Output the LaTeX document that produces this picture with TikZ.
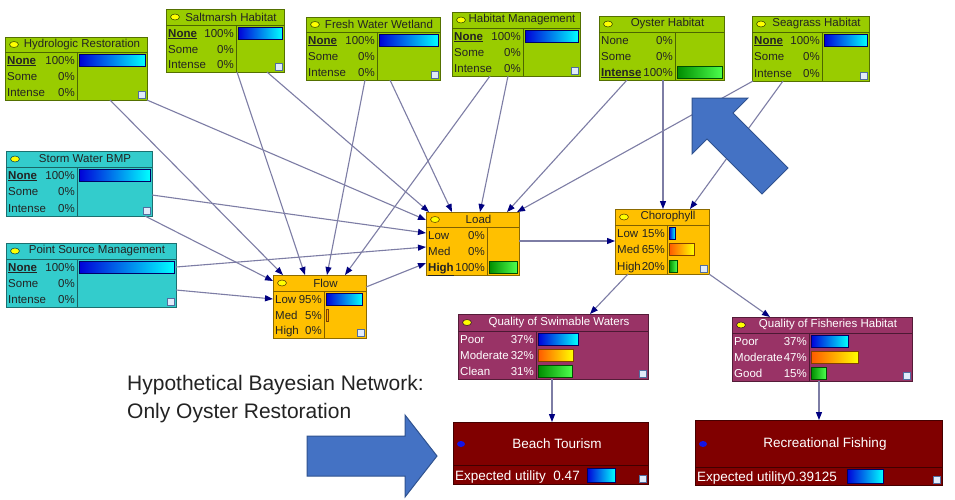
\documentclass[tikz,border=0pt]{standalone}
\usepackage{fontspec}
\setmainfont{Liberation Sans}
\usetikzlibrary{calc,arrows.meta}

\definecolor{hgreen}{RGB}{153,204,0}
\definecolor{scyan}{RGB}{51,204,204}
\definecolor{lorange}{RGB}{255,192,0}
\definecolor{qpurple}{RGB}{153,51,102}
\definecolor{udarkred}{RGB}{128,0,0}
\definecolor{ovalyellow}{RGB}{255,255,0}
\definecolor{dotblue}{RGB}{20,20,230}
\definecolor{txtdark}{RGB}{35,35,35}
\definecolor{edgegray}{RGB}{125,125,165}
\definecolor{arrownavy}{RGB}{0,0,128}
\definecolor{iconfill}{RGB}{225,235,250}
\definecolor{iconedge}{RGB}{80,110,160}
\definecolor{arrowfill}{RGB}{68,114,196}
\definecolor{arrowedge}{RGB}{47,82,143}

\newcommand{\bnfont}{\fontsize{11.5}{13}\selectfont}
\newcommand{\bnufont}{\fontsize{13.5}{15}\selectfont}
\newcommand{\sel}[1]{\underline{\textbf{#1}}}

\tikzset{
  bnbox/.style={rectangle, draw=#1!55!black, fill=#1, line width=1pt,
    inner sep=0, outer sep=0, anchor=north west},
  bnedge/.style={draw=edgegray, line width=1.1pt,
    -{Triangle[length=8pt,width=6pt,color=arrownavy]}},
  bluebar/.style={left color=blue!85!black, right color=cyan, draw=blue!40!black, line width=0.4pt},
  orangebar/.style={left color=orange!70!red, right color=yellow, draw=orange!50!black, line width=0.4pt},
  greenbar/.style={left color=green!55!black, right color=green!70!white, draw=green!30!black, line width=0.4pt},
  blockarrow/.style={fill=arrowfill, draw=arrowedge, line width=1pt},
}

% title row, divider, oval and icon of a chance node
\newcommand{\bnhead}[6]{%
  \draw[draw=#2!50!black, line width=1pt]
    ($(#1.north west)+(0,#3)$) -- ($(#1.north east)+(0,#3)$)
    ($(#1.north west)+(#4,#3)$) -- ($(#1.south west)+(#4,0)$);
  \filldraw[fill=ovalyellow, draw=#2!40!black, line width=0.6pt]
    ($(#1.north west)+(9,#3/2)$) ellipse [x radius=4.5, y radius=3];
  \node[text=#6, font=\bnfont, inner sep=0] at ($(#1.north)+(6,#3/2)$) {#5};
  \filldraw[fill=iconfill, draw=iconedge, line width=0.5pt]
    ($(#1.south east)+(-9,-2)$) rectangle ++(7,-7);
}
% one state: node, row centre, divider, label, percent, text colour
\newcommand{\bnrow}[6]{%
  \node[anchor=base west, text=#6, font=\bnfont, inner sep=0] at ($(#1.north west)+(2,#2+4)$) {#4};
  \node[anchor=base east, text=#6, font=\bnfont, inner sep=0] at ($(#1.north west)+(#3-2,#2+4)$) {#5};
}
% belief bar: node, row centre, start, length, style
\newcommand{\bnbar}[5]{%
  \shade[#5] ($(#1.north west)+(#3,#2-6)$) rectangle ++(#4,12);
}

\begin{document}
\begin{tikzpicture}[x=1pt,y=-1pt]

\fill[white] (0,0) rectangle (955,499);
\useasboundingbox (0,0) rectangle (955,499);

% management nodes
\node[bnbox=hgreen, minimum width=142, minimum height=63] (hydro) at (5,37) {};
\bnhead{hydro}{hgreen}{15}{72}{Hydrologic Restoration}{txtdark}
\bnrow{hydro}{23}{72}{\sel{None}}{100\%}{txtdark}
\bnrow{hydro}{39}{72}{Some}{0\%}{txtdark}
\bnrow{hydro}{55}{72}{Intense}{0\%}{txtdark}
\bnbar{hydro}{23}{74}{66}{bluebar}

\node[bnbox=hgreen, minimum width=118, minimum height=63] (salt) at (166,9) {};
\bnhead{salt}{hgreen}{16}{70}{Saltmarsh Habitat}{txtdark}
\bnrow{salt}{24}{70}{\sel{None}}{100\%}{txtdark}
\bnrow{salt}{40}{70}{Some}{0\%}{txtdark}
\bnrow{salt}{55}{70}{Intense}{0\%}{txtdark}
\bnbar{salt}{24}{72}{44}{bluebar}

\node[bnbox=hgreen, minimum width=134, minimum height=63] (fresh) at (306,17) {};
\bnhead{fresh}{hgreen}{15}{71}{Fresh Water Wetland}{txtdark}
\bnrow{fresh}{23}{71}{\sel{None}}{100\%}{txtdark}
\bnrow{fresh}{39}{71}{Some}{0\%}{txtdark}
\bnrow{fresh}{55}{71}{Intense}{0\%}{txtdark}
\bnbar{fresh}{23}{73}{59}{bluebar}

\node[bnbox=hgreen, minimum width=128, minimum height=64] (habmgmt) at (452,12) {};
\bnhead{habmgmt}{hgreen}{16}{71}{Habitat Management}{txtdark}
\bnrow{habmgmt}{24}{71}{\sel{None}}{100\%}{txtdark}
\bnrow{habmgmt}{40}{71}{Some}{0\%}{txtdark}
\bnrow{habmgmt}{56}{71}{Intense}{0\%}{txtdark}
\bnbar{habmgmt}{24}{73}{53}{bluebar}

\node[bnbox=hgreen, minimum width=125, minimum height=64] (oyster) at (599,16) {};
\bnhead{oyster}{hgreen}{16}{76}{Oyster Habitat}{txtdark}
\bnrow{oyster}{24}{76}{None}{0\%}{txtdark}
\bnrow{oyster}{40}{76}{Some}{0\%}{txtdark}
\bnrow{oyster}{56}{76}{\sel{Intense}}{100\%}{txtdark}
\bnbar{oyster}{56}{78}{45}{greenbar}

\node[bnbox=hgreen, minimum width=117, minimum height=65] (seagrass) at (752,16) {};
\bnhead{seagrass}{hgreen}{16}{70}{Seagrass Habitat}{txtdark}
\bnrow{seagrass}{24}{70}{\sel{None}}{100\%}{txtdark}
\bnrow{seagrass}{40}{70}{Some}{0\%}{txtdark}
\bnrow{seagrass}{57}{70}{Intense}{0\%}{txtdark}
\bnbar{seagrass}{24}{72}{43}{bluebar}

\node[bnbox=scyan, minimum width=146, minimum height=65] (storm) at (6,151) {};
\bnhead{storm}{scyan}{16}{71}{Storm Water BMP}{txtdark}
\bnrow{storm}{24}{71}{\sel{None}}{100\%}{txtdark}
\bnrow{storm}{40}{71}{Some}{0\%}{txtdark}
\bnrow{storm}{57}{71}{Intense}{0\%}{txtdark}
\bnbar{storm}{24}{73}{71}{bluebar}

\node[bnbox=scyan, minimum width=170, minimum height=64] (point) at (6,243) {};
\bnhead{point}{scyan}{16}{71}{Point Source Management}{txtdark}
\bnrow{point}{24}{71}{\sel{None}}{100\%}{txtdark}
\bnrow{point}{40}{71}{Some}{0\%}{txtdark}
\bnrow{point}{56}{71}{Intense}{0\%}{txtdark}
\bnbar{point}{24}{73}{95}{bluebar}

% intermediate nodes
\node[bnbox=lorange, minimum width=93, minimum height=63] (load) at (426,212) {};
\bnhead{load}{lorange}{15}{61}{Load}{txtdark}
\bnrow{load}{23}{61}{Low}{0\%}{txtdark}
\bnrow{load}{39}{61}{Med}{0\%}{txtdark}
\bnrow{load}{55}{61}{\sel{High}}{100\%}{txtdark}
\bnbar{load}{55}{63}{28}{greenbar}

\node[bnbox=lorange, minimum width=93, minimum height=63] (flow) at (273,275) {};
\bnhead{flow}{lorange}{16}{51}{Flow}{txtdark}
\bnrow{flow}{24}{51}{Low}{95\%}{txtdark}
\bnrow{flow}{40}{51}{Med}{5\%}{txtdark}
\bnrow{flow}{55}{51}{High}{0\%}{txtdark}
\bnbar{flow}{24}{53}{36}{bluebar}
\bnbar{flow}{40}{53}{2}{orangebar}

\node[bnbox=lorange, minimum width=94, minimum height=65] (choro) at (615,209) {};
\bnhead{choro}{lorange}{16}{52}{Chorophyll}{txtdark}
\bnrow{choro}{24}{52}{Low}{15\%}{txtdark}
\bnrow{choro}{40}{52}{Med}{65\%}{txtdark}
\bnrow{choro}{57}{52}{High}{20\%}{txtdark}
\bnbar{choro}{24}{54}{6}{bluebar}
\bnbar{choro}{40}{54}{25}{orangebar}
\bnbar{choro}{57}{54}{8}{greenbar}

\node[bnbox=qpurple, minimum width=190, minimum height=65] (swim) at (458,314) {};
\bnhead{swim}{qpurple}{17}{78}{Quality of Swimable Waters}{white}
\bnrow{swim}{25}{78}{Poor}{37\%}{white}
\bnrow{swim}{41}{78}{Moderate}{32\%}{white}
\bnrow{swim}{57}{78}{Clean}{31\%}{white}
\bnbar{swim}{25}{80}{40}{bluebar}
\bnbar{swim}{41}{80}{35}{orangebar}
\bnbar{swim}{57}{80}{34}{greenbar}

\node[bnbox=qpurple, minimum width=180, minimum height=64] (fish) at (732,317) {};
\bnhead{fish}{qpurple}{16}{77}{Quality of Fisheries Habitat}{white}
\bnrow{fish}{24}{77}{Poor}{37\%}{white}
\bnrow{fish}{40}{77}{Moderate}{47\%}{white}
\bnrow{fish}{56}{77}{Good}{15\%}{white}
\bnbar{fish}{24}{79}{37}{bluebar}
\bnbar{fish}{40}{79}{47}{orangebar}
\bnbar{fish}{56}{79}{15}{greenbar}

% utility nodes
\node[bnbox=udarkred, minimum width=195, minimum height=62] (beach) at (453,422) {};
\draw[draw=udarkred!50!black, line width=1pt] ($(beach.north west)+(0,43)$) -- ($(beach.north east)+(0,43)$);
\fill[dotblue] ($(beach.north west)+(8,22)$) ellipse [x radius=4, y radius=3];
\node[text=white, font=\bnufont, inner sep=0] at ($(beach.north west)+(104,22)$) {Beach Tourism};
\node[anchor=base west, text=white, font=\bnufont, inner sep=0] at ($(beach.north west)+(2,58)$) {Expected utility\ \ 0.47};
\shade[bluebar] ($(beach.north west)+(134,46)$) rectangle ++(28,14);
\filldraw[fill=iconfill, draw=iconedge, line width=0.5pt] ($(beach.south east)+(-9,-2)$) rectangle ++(7,-7);

\node[bnbox=udarkred, minimum width=247, minimum height=65] (recfish) at (695,420) {};
\draw[draw=udarkred!50!black, line width=1pt] ($(recfish.north west)+(0,47)$) -- ($(recfish.north east)+(0,47)$);
\fill[dotblue] ($(recfish.north west)+(8,24)$) ellipse [x radius=4, y radius=3];
\node[text=white, font=\bnufont, inner sep=0] at ($(recfish.north west)+(130,24)$) {Recreational Fishing};
\node[anchor=base west, text=white, font=\bnufont, inner sep=0] at ($(recfish.north west)+(2,61)$) {Expected utility0.39125};
\shade[bluebar] ($(recfish.north west)+(152,49)$) rectangle ++(36,14);
\filldraw[fill=iconfill, draw=iconedge, line width=0.5pt] ($(recfish.south east)+(-9,-2)$) rectangle ++(7,-7);

% links
\draw[bnedge] ($(hydro.south west)+(105,0)$) -- ($(flow.north west)+(10,0)$);
\draw[bnedge] (hydro.south east) -- ($(load.north west)+(0,8)$);
\draw[bnedge] ($(salt.south west)+(71,0)$) -- ($(flow.north west)+(32,0)$);
\draw[bnedge] ($(salt.south west)+(101,0)$) -- ($(load.north west)+(3,0)$);
\draw[bnedge] ($(fresh.south west)+(59,0)$) -- ($(flow.north west)+(54,0)$);
\draw[bnedge] ($(fresh.south west)+(84,0)$) -- ($(load.north west)+(26,0)$);
\draw[bnedge] ($(habmgmt.south west)+(38,0)$) -- ($(flow.north west)+(72,0)$);
\draw[bnedge] ($(habmgmt.south west)+(56,0)$) -- ($(load.north west)+(54,0)$);
\draw[bnedge] ($(oyster.south west)+(28,0)$) -- ($(load.north west)+(81,0)$);
\draw[bnedge] ($(oyster.south west)+(64,0)$) -- ($(choro.north west)+(48,0)$);
\draw[bnedge] ($(seagrass.south west)+(1,0)$) -- ($(load.north east)+(-2,0)$);
\draw[bnedge] ($(seagrass.south west)+(31,0)$) -- ($(choro.north west)+(75,0)$);
\draw[bnedge] ($(storm.north east)+(0,44)$) -- ($(load.north west)+(0,21)$);
\draw[bnedge] ($(storm.south east)+(-7,0)$) -- ($(flow.north west)+(0,6)$);
\draw[bnedge] ($(point.north east)+(0,24)$) -- ($(load.north west)+(0,35)$);
\draw[bnedge] ($(point.north east)+(0,47)$) -- ($(flow.north west)+(0,24)$);
\draw[bnedge] ($(flow.north east)+(0,12)$) -- ($(load.north west)+(0,51)$);
\draw[bnedge] ($(load.north east)+(0,29)$) -- ($(choro.north west)+(0,32)$);
\draw[bnedge] ($(choro.south west)+(13,0)$) -- ($(swim.north west)+(132,0)$);
\draw[bnedge] (choro.south east) -- ($(fish.north west)+(38,0)$);
\draw[bnedge] ($(swim.south west)+(94,0)$) -- ($(beach.north west)+(99,0)$);
\draw[bnedge] ($(fish.south west)+(87,0)$) -- ($(recfish.north west)+(124,0)$);

% block arrows and caption
\draw[blockarrow] (692,98) -- (748,98) -- (733,113) -- (788,168) -- (762,194) -- (707,139) -- (692,154) -- cycle;
\draw[blockarrow] (307,436) -- (405,436) -- (405,415) -- (437,456) -- (405,497) -- (405,476) -- (307,476) -- cycle;
\node[anchor=north west, inner sep=0, align=left, text=txtdark, font=\fontsize{21}{28}\selectfont] (caption) at (127,375)
  {Hypothetical Bayesian Network:\\Only Oyster Restoration};

\end{tikzpicture}
\end{document}
